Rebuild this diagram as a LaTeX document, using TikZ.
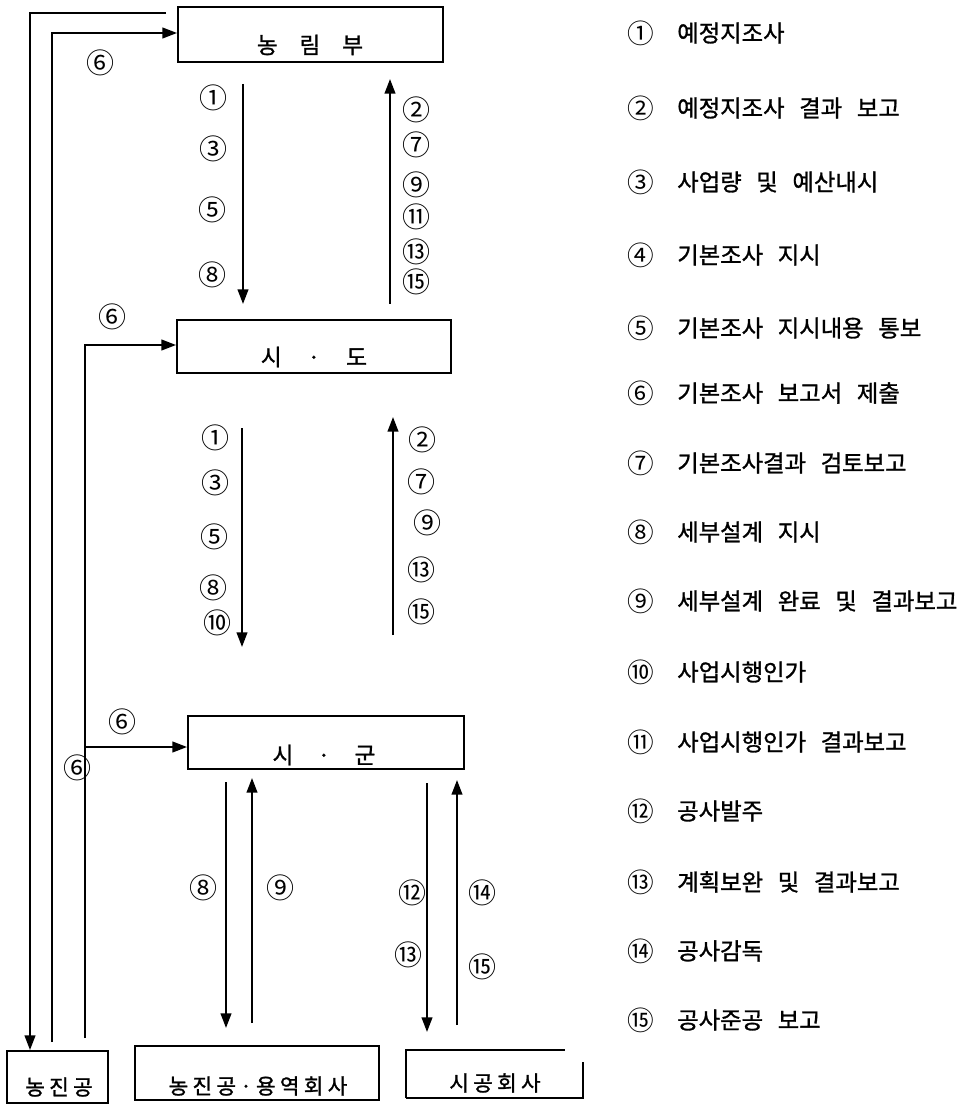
\documentclass[tikz,border=0pt]{standalone}
\usepackage{fontspec}
\setmainfont{Noto Sans CJK KR}
\newfontfamily\krb{Noto Sans CJK KR}[FakeBold=1.2]
\newfontfamily\krsp{Noto Sans CJK KR}[LetterSpace=20,FakeBold=1.2]
\usetikzlibrary{arrows.meta}
\newcommand\ws{\hspace{11pt}}
\begin{document}
\begin{tikzpicture}[x=0.75pt,y=-0.75pt,
  every node/.style={inner sep=0pt},
  frame/.style={draw, line width=1.4pt},
  link/.style={line width=1.5pt, -{Triangle[width=8pt,length=11pt]}},
  plain/.style={line width=1.5pt},
  num/.style={font=\fontsize{21}{22}\selectfont},
  legnum/.style={font=\fontsize{20}{22}\selectfont},
  leg/.style={font=\krb\fontsize{17.5}{19}\selectfont, anchor=west},
  title/.style={font=\krb\fontsize{17}{18}\selectfont},
  org/.style={font=\krsp\fontsize{16}{18}\selectfont}]
\useasboundingbox (0,0) rectangle (970,1105);

% boxes
\node[frame, minimum width=198.75pt, minimum height=41.25pt] (nl) at (310.5,34.5) {};
\node[title] (nlt) at (310,45) {\makebox[32pt]{농}\makebox[32pt]{림}\makebox[32pt]{부}};
\node[frame, minimum width=205.5pt, minimum height=39.75pt] (sd) at (314,346.5) {};
\node[title] (sdt) at (314,357) {\makebox[32pt]{시}\makebox[32pt]{·}\makebox[32pt]{도}};
\node[frame, minimum width=207pt, minimum height=39.75pt] (sg) at (326,742.5) {};
\node[title] (sgt) at (324,755) {\makebox[30.75pt]{시}\makebox[30.75pt]{·}\makebox[30.75pt]{군}};
\node[frame, minimum width=75.75pt, minimum height=39pt] (nj) at (57.5,1077) {};
\node[org] (njt) at (59,1087) {농진공};
\node[frame, minimum width=183pt, minimum height=40.5pt] (yy) at (257,1073) {};
\node[org] (yyt) at (258,1086) {농진공\hspace{3pt}·\hspace{3pt}용역회사};
\node[org] (sc) at (495,1083) {시공회사};
\draw[plain] (406,1098) -- (406,1050) -- (565,1050);
\draw[plain] (406,1098) -- (583,1098) -- (583,1062);

% left return lines
\coordinate (c1s) at (166,13);
\coordinate (c1t) at (30,13);
\draw[link] (c1s) -- (c1t) -- (c1t |- nj.north);
\coordinate (c2b) at (52,1042);
\coordinate (c2t) at (52,33);
\draw[link] (c2b) -- (c2t) -- (c2t -| nl.west);
\coordinate (c3b) at (85,1038);
\coordinate (c3t) at (85,345);
\coordinate (c3m) at (85,747);
\draw[link] (c3b) -- (c3t) -- (c3t -| sd.west);
\draw[link] (c3m) -- (c3m -| sg.west);

% vertical arrows
\coordinate (a1s) at (243,84);  \coordinate (a1e) at (243,304);
\coordinate (a2s) at (390,304); \coordinate (a2e) at (390,79);
\coordinate (a3s) at (242,428); \coordinate (a3e) at (242,647);
\coordinate (a4s) at (393,635); \coordinate (a4e) at (393,417);
\coordinate (a5s) at (226,782); \coordinate (a5e) at (226,1028);
\coordinate (a6s) at (252,1023);\coordinate (a6e) at (252,778);
\coordinate (a7s) at (427,783); \coordinate (a7e) at (427,1032);
\coordinate (a8s) at (457,1025);\coordinate (a8e) at (457,780);
\foreach \i in {1,...,8} {\draw[link] (a\i s) -- (a\i e);}

% labels
\node[num] (k6a) at (100,63) {⑥};
\node[num] (k6b) at (112,317) {⑥};
\node[num] (k6c) at (122,722) {⑥};
\node[num] (k6d) at (77,768) {⑥};

\node[num] (t1) at (213,98) {①};
\node[num] (t3) at (213,149) {③};
\node[num] (t5) at (212,210) {⑤};
\node[num] (t8) at (212,275) {⑧};
\node[num] (u2) at (416,110) {②};
\node[num] (u7) at (416,145) {⑦};
\node[num] (u9) at (416,185) {⑨};
\node[num] (u11) at (416,217) {⑪};
\node[num] (u13) at (416,252) {⑬};
\node[num] (u15) at (416,282) {⑮};

\node[num] (m1) at (215,438) {①};
\node[num] (m3) at (215,483) {③};
\node[num] (m5) at (214,537) {⑤};
\node[num] (m8) at (213,588) {⑧};
\node[num] (m10) at (217,623) {⑩};
\node[num] (n2) at (422,440) {②};
\node[num] (n7) at (421,482) {⑦};
\node[num] (n9) at (427,523) {⑨};
\node[num] (n13) at (421,570) {⑬};
\node[num] (n15) at (421,612) {⑮};

\node[num] (b8) at (203,888) {⑧};
\node[num] (b9) at (280,888) {⑨};
\node[num] (b12) at (412,893) {⑫};
\node[num] (b13) at (408,955) {⑬};
\node[num] (b14) at (482,893) {⑭};
\node[num] (b15) at (482,967) {⑮};

% legend
\foreach \n/\yy/\t [count=\k] in {
  ①/33/예정지조사,
  ②/108/예정지조사\ws 결과\ws 보고,
  ③/182/사업량\ws 및\ws 예산내시,
  ④/255/기본조사\ws 지시,
  ⑤/328/기본조사\ws 지시내용\ws 통보,
  ⑥/393/기본조사\ws 보고서\ws 제출,
  ⑦/463/기본조사결과\ws 검토보고,
  ⑧/532/세부설계\ws 지시,
  ⑨/601/세부설계\ws 완료\ws 및\ws 결과보고,
  ⑩/672/사업시행인가,
  ⑪/742/사업시행인가\ws 결과보고,
  ⑫/811/공사발주,
  ⑬/882/계획보완\ws 및\ws 결과보고,
  ⑭/951/공사감독,
  ⑮/1020/공사준공\ws 보고} {
  \node[legnum] (ln\k) at (641,\yy) {\n};
  \node[leg] (lt\k) at (677,\yy) {\t};
}
\end{tikzpicture}
\end{document}
